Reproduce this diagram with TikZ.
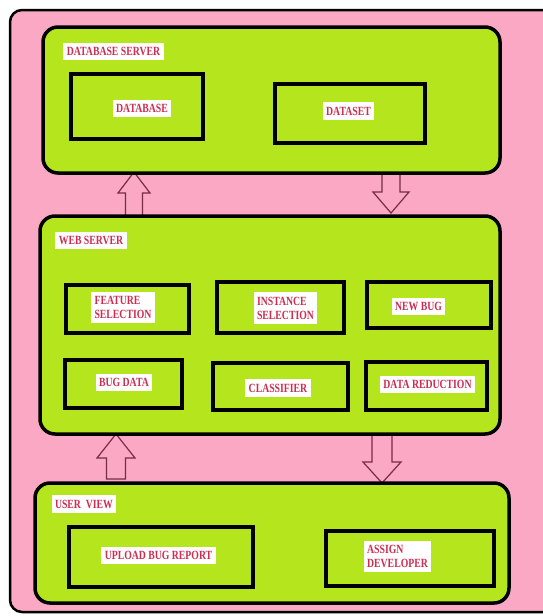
\documentclass[tikz,border=0pt]{standalone}
\usepackage{fontspec}
\newfontfamily\lblfont[FakeStretch=0.78]{Liberation Serif}
\definecolor{pinkbg}{RGB}{250,168,196}
\definecolor{limebg}{RGB}{181,230,29}
\definecolor{lblred}{RGB}{205,45,80}
\definecolor{arrowc}{RGB}{120,45,70}
\tikzset{
  outerbox/.style={draw=black, line width=2.5pt, fill=pinkbg, rounded corners=12pt},
  container/.style={draw=black, line width=3.5pt, fill=limebg, rounded corners=15pt, inner sep=0pt},
  inbox/.style={draw=black, line width=4.5pt, fill=limebg, inner sep=0pt},
  lbl/.style={fill=white, text=lblred, font=\lblfont\bfseries\fontsize{12.5}{14}\selectfont,
    inner xsep=3.5pt, inner ysep=4.5pt, align=left},
  blockarrow/.style={draw=arrowc, line width=1.2pt, fill=pinkbg, line join=miter}
}
\newcommand\rectnode[6]{\node[#1, minimum width={#5-#3}, minimum height={#6-#4}] (#2) at ({(#3+#5)/2},{(#4+#6)/2}) {};}
\begin{document}
\begin{tikzpicture}[x=1pt,y=-1pt]
\useasboundingbox (0,0) rectangle (543,616);
\fill[white] (0,0) rectangle (543,616);
\draw[outerbox] (10,10) rectangle (556,612);

% block arrows (drawn first, containers cover their ends)
% up arrow DB <- Web
\coordinate (a1tip) at (134,172);
\draw[blockarrow] (a1tip) -- (150,193) -- (142.5,193) -- (142.5,216) -- (125.5,216) -- (125.5,193) -- (118,193) -- cycle;
% down arrow DB -> Web
\coordinate (a2tip) at (391,213);
\draw[blockarrow] (382,172) -- (382,192) -- (373,192) -- (a2tip) -- (409,192) -- (400,192) -- (400,172) -- cycle;
% up arrow Web <- User
\coordinate (a3tip) at (116,434);
\draw[blockarrow] (a3tip) -- (135,458) -- (125.5,458) -- (125.5,479) -- (106.5,479) -- (106.5,458) -- (97,458) -- cycle;
% down arrow Web -> User
\coordinate (a4tip) at (382,483);
\draw[blockarrow] (372,433) -- (372,462) -- (363,462) -- (a4tip) -- (401,462) -- (392,462) -- (392,433) -- cycle;

% containers
\rectnode{container}{db}{43}{27}{500}{173}
\rectnode{container}{web}{40}{216}{500}{434}
\rectnode{container}{user}{35}{483}{509}{603}

% inner boxes
\rectnode{inbox}{database}{71}{74}{203}{139}
\rectnode{inbox}{dataset}{275}{84}{425}{143}
\rectnode{inbox}{feature}{66}{285}{189}{333}
\rectnode{inbox}{instance}{217}{282}{344}{333}
\rectnode{inbox}{newbug}{367}{282}{491}{328}
\rectnode{inbox}{bugdata}{65}{360}{182}{408}
\rectnode{inbox}{classifier}{213}{363}{348}{410}
\rectnode{inbox}{datared}{366}{362}{487}{410}
\rectnode{inbox}{upload}{69}{527}{253}{587}
\rectnode{inbox}{assign}{326}{531}{494}{586}

% labels
\node[lbl] (ldbs) at (113.5,51.5) {DATABASE SERVER};
\node[lbl] (ldb) at (142,108.5) {DATABASE};
\node[lbl] (lds) at (348.5,111) {DATASET};
\node[lbl] (lweb) at (91,240.5) {WEB SERVER};
\node[lbl] (lfeat) at (123,307.5) {FEATURE\\SELECTION};
\node[lbl] (linst) at (285.5,308) {INSTANCE\\SELECTION};
\node[lbl] (lnew) at (418.5,306.5) {NEW BUG};
\node[lbl] (lbug) at (124,382.5) {BUG DATA};
\node[lbl] (lclass) at (278,388) {CLASSIFIER};
\node[lbl] (lred) at (427.5,384.5) {DATA REDUCTION};
\node[lbl] (luser) at (84,504) {USER\ \ VIEW};
\node[lbl] (lup) at (158.5,555.5) {UPLOAD BUG REPORT};
\node[lbl] (lassign) at (397.5,556.5) {ASSIGN\\DEVELOPER};
\end{tikzpicture}
\end{document}
